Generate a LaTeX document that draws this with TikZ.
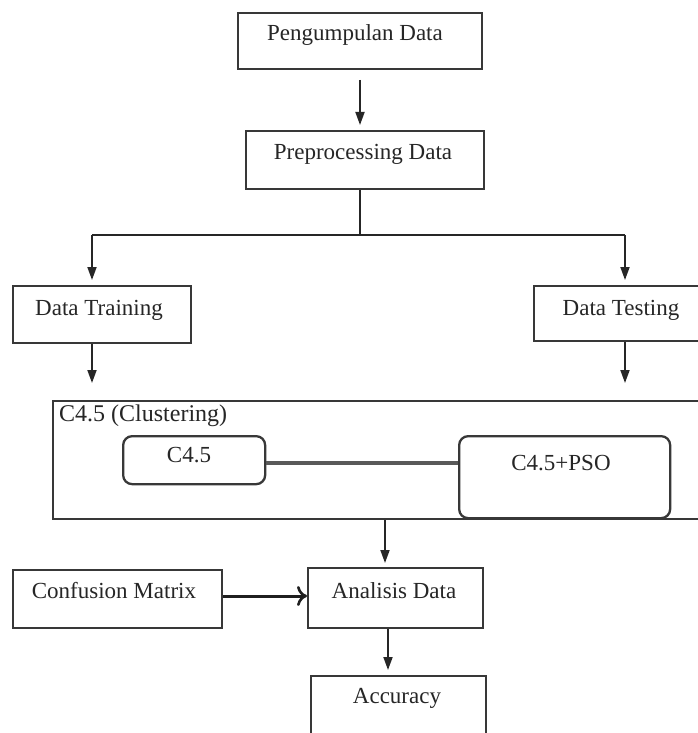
\documentclass[tikz,border=0pt]{standalone}
\usepackage{fontspec}
\setmainfont{Liberation Serif}
\usetikzlibrary{arrows.meta,calc}
\begin{document}
\begin{tikzpicture}[x=1pt,y=1pt,
  box/.style={draw=black!78,line width=2.3pt,anchor=north west,inner sep=0pt},
  rbox/.style={box,rounded corners=9pt},
  txt/.style={font=\fontsize{23}{26}\selectfont,inner sep=0pt,text=black!85},
  arr/.style={draw=black!85,line width=1.8pt,-{Triangle[length=13pt,width=9pt]}},
  ln/.style={draw=black!85,line width=1.8pt}]
\useasboundingbox (0,0) rectangle (697,-733);
\fill[white] (0,0) rectangle (697,-733);
% boxes
\node[box,minimum width=244,minimum height=56] (pd) at (237,-12) {};
\node[txt] (pdt) at (355,-35) {Pengumpulan Data};
\node[box,minimum width=238,minimum height=58] (pp) at (245,-130) {};
\node[txt] (ppt) at (363,-154) {Preprocessing Data};
\node[box,minimum width=178,minimum height=57] (dtr) at (12,-285) {};
\node[txt] (dtrt) at (99,-310) {Data Training};
\node[box,minimum width=170,minimum height=55] (dte) at (533,-285) {};
\node[txt] (dtet) at (621,-310) {Data Testing};
\node[box,minimum width=660,minimum height=118] (cl) at (52,-400) {};
\node[txt,anchor=west,font=\fontsize{24}{27}\selectfont] (clt) at (59,-416) {C4.5 (Clustering)};
\node[rbox,minimum width=142,minimum height=48] (c45) at (122,-435) {};
\node[txt] (c45t) at (189,-455) {C4.5};
\node[rbox,minimum width=211,minimum height=82] (pso) at (458,-435) {};
\node[txt] (psot) at (561,-463) {C4.5+PSO};
\node[box,minimum width=209,minimum height=58] (cm) at (12,-569) {};
\node[txt] (cmt) at (114,-591) {Confusion Matrix};
\node[box,minimum width=175,minimum height=60] (ad) at (307,-567) {};
\node[txt] (adt) at (394,-591) {Analisis Data};
\node[box,minimum width=175,minimum height=58] (acc) at (310,-675) {};
\node[txt] (acct) at (397,-698) {Accuracy};
% connectors
\coordinate (top1) at (360,-80);
\draw[arr,shorten >=5pt] (top1) -- (top1 |- pp.north);
\coordinate (split) at (360,-235);
\coordinate (L) at (92,-235);
\coordinate (R) at (625,-235);
\draw[ln] (pp.south -| split) -- (split);
\draw[ln] (L) -- (R);
\draw[arr,shorten >=5pt] (L) -- (L |- dtr.north);
\draw[arr,shorten >=5pt] (R) -- (R |- dte.north);
\draw[arr,shorten >=17pt] (dtr.south -| L) -- (L |- cl.north);
\draw[arr,shorten >=17pt] (dte.south -| R) -- (R |- cl.north);
\coordinate (cx) at (385,-518);
\draw[arr,shorten >=4pt] (cl.south -| cx) -- (cx |- ad.north);
\draw[draw=black!65,line width=4.5pt] (c45.east |- 0,-463) -- (pso.west |- 0,-463);
\draw[draw=black!88,line width=3pt,-{To[length=10pt,width=20pt,line width=2.6pt]}] (cm.east |- 0,-596) -- (ad.west |- 0,-596);
\coordinate (ax) at (388,-627);
\draw[arr,shorten >=5pt] (ad.south -| ax) -- (ax |- acc.north);
\end{tikzpicture}
\end{document}
